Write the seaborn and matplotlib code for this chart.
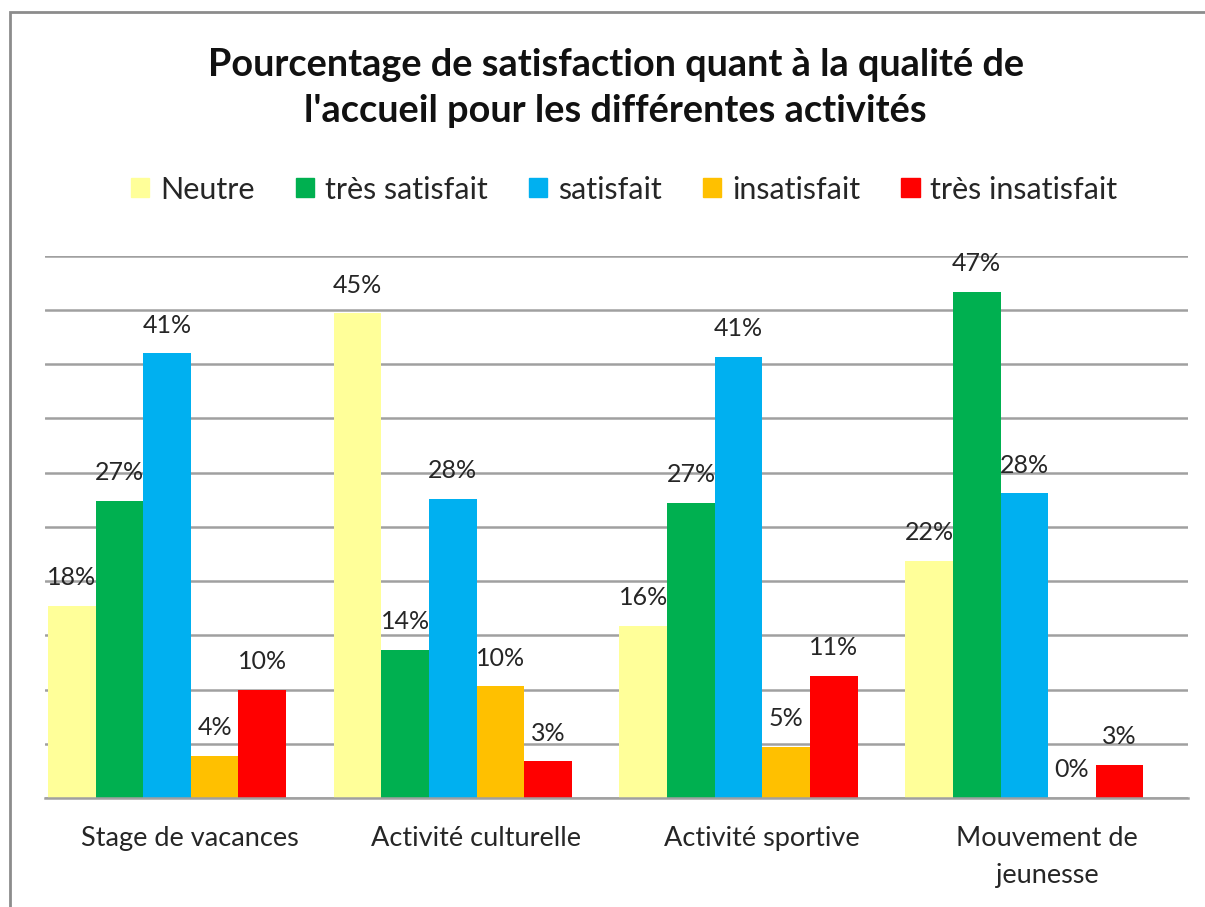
import pandas as pd
import numpy as np
import seaborn as sns
import matplotlib.pyplot as plt
from matplotlib.patches import Rectangle

# données (en %)
activites = ['Stage de vacances', 'Activité culturelle', 'Activité sportive', 'Mouvement de\njeunesse']
niveaux = ['Neutre', 'très satisfait', 'satisfait', 'insatisfait', 'très insatisfait']
neutre = [17.7, 44.7, 15.9, 21.9]
tres_satisfait = [27.4, 13.7, 27.2, 46.7]
satisfait = [41.0, 27.6, 40.7, 28.1]
insatisfait = [3.9, 10.3, 4.7, 0.0]
tres_insatisfait = [10.0, 3.4, 11.3, 3.1]
couleurs = ['#FFFF99', '#00B050', '#00B0F0', '#FFC000', '#FF0000']

series = [neutre, tres_satisfait, satisfait, insatisfait, tres_insatisfait]
df = pd.DataFrame({
    'Activite': np.tile(activites, len(niveaux)),
    'Niveau': np.repeat(niveaux, len(activites)),
    'Pourcentage': np.concatenate(series),
})

sns.set_style('white')
plt.rcParams['font.family'] = ['Lato', 'DejaVu Sans']

fig = plt.figure(figsize=(12.05, 9.07), dpi=100)
ax = fig.add_axes([0.0373, 0.120, 0.9487, 0.598])

sns.barplot(data=df, x='Activite', y='Pourcentage', hue='Niveau',
            order=activites, hue_order=niveaux, palette=couleurs,
            width=5 / 6, saturation=1, gap=0, errorbar=None, ax=ax,
            legend=False, linewidth=0, edgecolor='none')

# étiquettes de valeurs
for cont in ax.containers:
    for bar in cont:
        h = bar.get_height()
        ax.text(bar.get_x() + bar.get_width() / 2, h + 2.6, f'{h:.0f}%',
                ha='center', va='center', fontsize=18, color='#262626')

ax.set_ylim(0, 50)
ax.set_yticks(np.arange(0, 51, 5))
ax.yaxis.grid(True, color='#A0A0A0', linewidth=1.8)
ax.set_axisbelow(True)
ax.set_yticklabels([])
ax.tick_params(axis='y', length=0)
ax.set_xlim(-0.427, 3.573)
ax.set_xticks(np.arange(len(activites)) + 0.08)
ax.set_xticklabels(activites, fontsize=19.5, color='#262626', linespacing=1.6)
ax.tick_params(axis='x', length=0, pad=20)
ax.set_xlabel('')
ax.set_ylabel('')
for s in ['top', 'right', 'left']:
    ax.spines[s].set_visible(False)
ax.spines['bottom'].set_color('#A0A0A0')
ax.spines['bottom'].set_linewidth(1.8)

fig.text(0.511, 0.903, "Pourcentage de satisfaction quant à la qualité de\nl'accueil pour les différentes activités",
         ha='center', va='center', fontsize=27.3, fontweight='bold', color='#111111',
         linespacing=1.4)

handles = [Rectangle((0, 0), 1, 1, color=c) for c in couleurs]
fig.legend(handles, niveaux, loc='center', bbox_to_anchor=(0.518, 0.791), ncol=5,
           frameon=False, fontsize=22, handlelength=0.6, handleheight=0.6,
           handletextpad=0.35, columnspacing=1.35)

# cadre du graphique
fig.patches.append(Rectangle((10 / 1205, -0.05), 1.1, 1 - 12 / 907 + 0.05,
                             transform=fig.transFigure, fill=False,
                             edgecolor='#8C8C8C', linewidth=2))

fig.savefig('out.png', dpi=100)
